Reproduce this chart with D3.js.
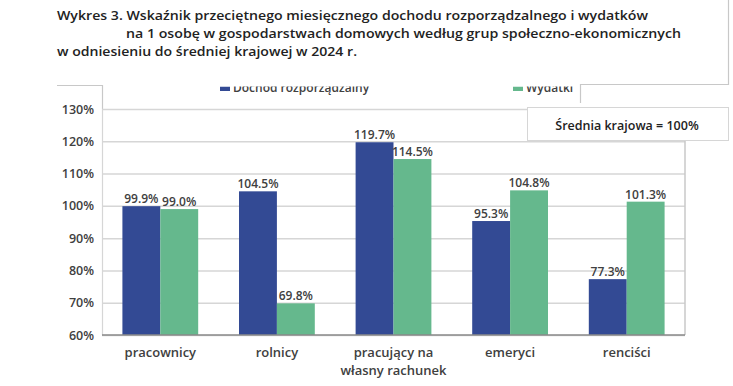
<!DOCTYPE html>
<html>
<head>
<meta charset="utf-8">
<script src="https://cdn.jsdelivr.net/npm/d3@7"></script>
<style>
  body { margin: 0; background: #fff; }
  svg { display: block; font-family: "Open Sans", "Noto Sans", sans-serif; }
</style>
</head>
<body>
<svg width="733" height="386"></svg>
<script>
// data
var categories = ["pracownicy", "rolnicy", "pracujący na\nwłasny rachunek", "emeryci", "renciści"];
var series = ["Dochód rozporządzalny", "Wydatki"];
var dochod = [99.9, 104.5, 119.7, 95.3, 77.3];
var wydatki = [99.0, 69.8, 114.5, 104.8, 101.3];
var yTicks = [60, 70, 80, 90, 100, 110, 120, 130];
var titleLines = [
  "Wykres 3. Wskaźnik przeciętnego miesięcznego dochodu rozporządzalnego i wydatków",
  "na 1 osobę w gospodarstwach domowych według grup społeczno-ekonomicznych",
  "w odniesieniu do średniej krajowej w 2024 r."
];
var noteText = "Średnia krajowa = 100%";

var colors = ["#334a94", "#65b88d"];
var textCol = "#404040";

var svg = d3.select("svg"),
    margin = {top: 109, right: 48, bottom: 51, left: 102},
    width = +svg.attr("width") - margin.left - margin.right,
    height = +svg.attr("height") - margin.top - margin.bottom;

var x0 = d3.scaleBand().domain(d3.range(categories.length))
    .range([0, width]).paddingInner(0.35).paddingOuter(0.175);
var x1 = d3.scaleBand().domain([0, 1]).range([0, x0.bandwidth()]);
var y = d3.scaleLinear().domain([60, 130]).range([height, 0]);

var rows = categories.map(function(c, i) { return [dochod[i], wydatki[i]]; });

// legend (top half gets hidden by the title box)
var legend = svg.append("g").attr("font-size", 12).attr("font-weight", 600).attr("fill", textCol);
[220, 513].forEach(function(lx, i) {
  legend.append("rect").attr("x", lx).attr("y", 86.5).attr("width", 10).attr("height", 4.5).attr("fill", colors[i]);
  legend.append("text").attr("x", lx + 13).attr("y", 92).text(series[i]);
});

// title box
svg.append("rect").attr("x", 0).attr("y", 0).attr("width", 728).attr("height", 86.5).attr("fill", "#fff");
var title = svg.append("g").attr("font-size", 12.5).attr("font-weight", 600).attr("fill", "#222");
var tPos = [[57, 20, 591], [126, 38, 555], [57, 56, 300]];
titleLines.forEach(function(t, i) {
  title.append("text").attr("x", tPos[i][0]).attr("y", tPos[i][1])
    .attr("textLength", tPos[i][2]).attr("lengthAdjust", "spacingAndGlyphs").text(t);
});

var frame = svg.append("g").attr("stroke", "#c8c8c8").attr("stroke-width", 1.2).attr("fill", "none");
frame.append("path").attr("d", "M57,85.5H102.5V109");
frame.append("path").attr("d", "M580.5,103V84.5H728.5V0");

var g = svg.append("g").attr("transform", "translate(" + margin.left + "," + margin.top + ")");

// gridlines
g.append("g")
  .call(d3.axisLeft(y).tickValues(yTicks).tickSize(-width).tickFormat(""))
  .call(function(s) { s.select(".domain").remove(); })
  .selectAll("line").attr("stroke", "#d6d6d6").attr("stroke-width", 1.5);

g.append("line").attr("x1", 0.5).attr("x2", 0.5).attr("y1", 0).attr("y2", height)
  .attr("stroke", "#d6d6d6").attr("stroke-width", 1.2);
g.append("line").attr("x1", width).attr("x2", width).attr("y1", 0).attr("y2", height)
  .attr("stroke", "#c8c8c8").attr("stroke-width", 1.5);

// bars
var groups = g.selectAll(".grp").data(rows).enter().append("g")
  .attr("transform", function(d, i) { return "translate(" + x0(i) + ",0)"; });

groups.selectAll("rect").data(function(d) { return d; }).enter().append("rect")
  .attr("x", function(d, j) { return x1(j); })
  .attr("y", function(d) { return y(d); })
  .attr("width", x1.bandwidth())
  .attr("height", function(d) { return height - y(d); })
  .attr("fill", function(d, j) { return colors[j]; });

groups.selectAll("text").data(function(d) { return d; }).enter().append("text")
  .attr("x", function(d, j) { return x1(j) + x1.bandwidth() / 2; })
  .attr("y", function(d) { return y(d) - 3; })
  .attr("text-anchor", "middle")
  .attr("font-size", 12).attr("font-weight", 600).attr("fill", textCol)
  .text(function(d) { return d.toFixed(1) + "%"; });

// x axis line
g.append("line").attr("x1", 0).attr("x2", width).attr("y1", height).attr("y2", height)
  .attr("stroke", "#8a8a8a").attr("stroke-width", 1.5);

// y labels
g.append("g").selectAll("text").data(yTicks).enter().append("text")
  .attr("x", -8).attr("y", function(d) { return y(d) + 4.5; })
  .attr("text-anchor", "end").attr("font-size", 12.5).attr("font-weight", 600).attr("fill", textCol)
  .text(function(d) { return d + "%"; });

// x labels
var xl = g.append("g").selectAll("text").data(categories).enter().append("text")
  .attr("text-anchor", "middle").attr("font-size", 13).attr("font-weight", 600).attr("fill", textCol)
  .attr("transform", function(d, i) { return "translate(" + (x0(i) + x0.bandwidth() / 2) + "," + (height + 22) + ")"; });
xl.selectAll("tspan").data(function(d) { return d.split("\n"); }).enter().append("tspan")
  .attr("x", 0).attr("dy", function(d, k) { return k ? 18 : 0; })
  .text(function(d) { return d; });

// note box
var note = svg.append("g");
note.append("rect").attr("x", 527.5).attr("y", 107.5).attr("width", 201).attr("height", 33)
  .attr("fill", "#fff").attr("stroke", "#d6d6d6").attr("stroke-width", 1);
note.append("text").attr("x", 627).attr("y", 130).attr("text-anchor", "middle")
  .attr("font-size", 12.5).attr("font-weight", 600).attr("fill", "#222").text(noteText);
</script>
</body>
</html>
